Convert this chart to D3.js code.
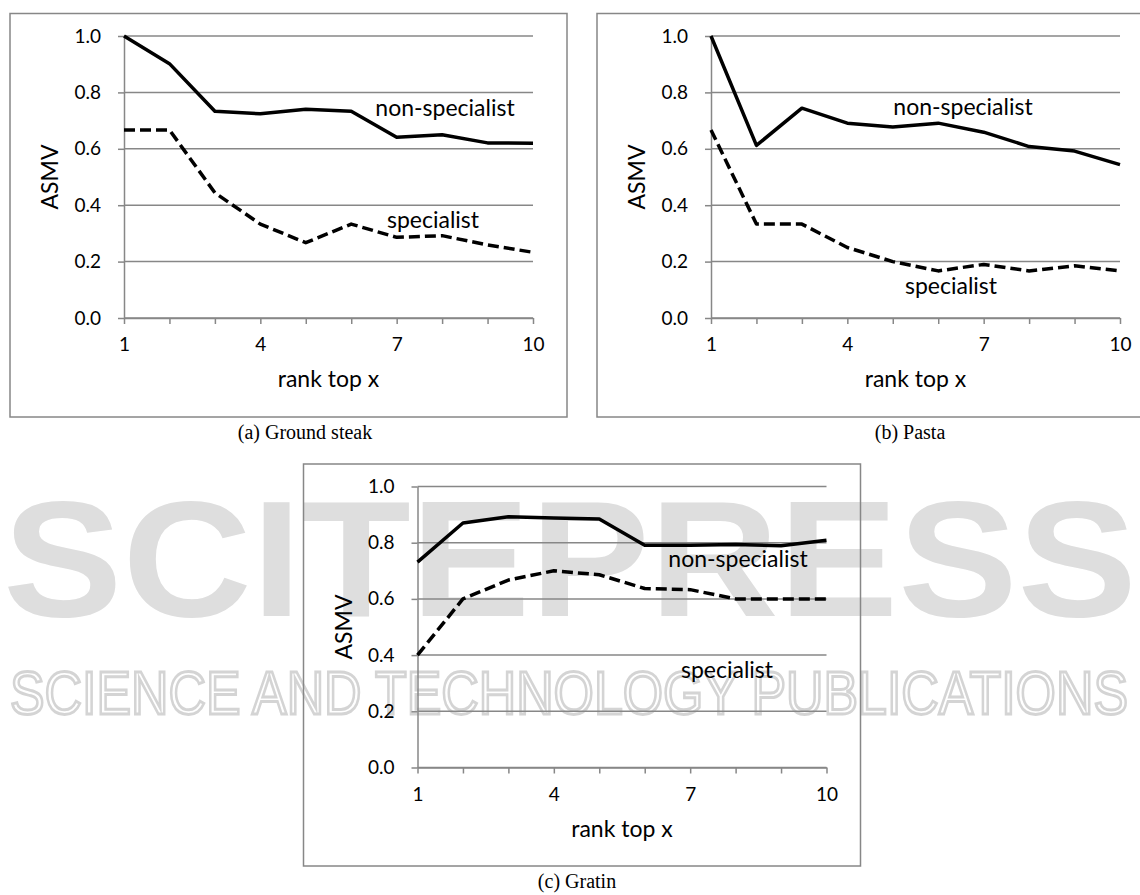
<!DOCTYPE html>
<html>
<head>
<meta charset="utf-8">
<script src="https://cdnjs.cloudflare.com/ajax/libs/d3/7.8.5/d3.min.js"></script>
<style>
  body { margin: 0; background: #fff; }
  .tick text { font-family: Lato, 'Open Sans', sans-serif; font-size: 19px; fill: #000; }
  .lbl { font-family: Lato, 'Open Sans', sans-serif; font-size: 23px; fill: #000; }
  .cap { font-family: 'Liberation Serif', 'Times New Roman', serif; font-size: 20px; fill: #000; }
</style>
</head>
<body>
<div class="chart"></div>
<script>
var ranks = [1, 2, 3, 4, 5, 6, 7, 8, 9, 10];
var xTickLabels = [1, 4, 7, 10];
var yTickLabels = [0, 0.2, 0.4, 0.6, 0.8, 1.0];

var steakNon  = [1.0, 0.902, 0.733, 0.724, 0.740, 0.733, 0.641, 0.650, 0.621, 0.620];
var steakSpec = [0.667, 0.667, 0.444, 0.333, 0.267, 0.333, 0.286, 0.292, 0.259, 0.233];
var pastaNon  = [1.0, 0.612, 0.744, 0.691, 0.677, 0.691, 0.659, 0.608, 0.592, 0.544];
var pastaSpec = [0.667, 0.333, 0.333, 0.250, 0.200, 0.167, 0.190, 0.167, 0.185, 0.167];
var gratinNon  = [0.731, 0.870, 0.892, 0.888, 0.884, 0.791, 0.791, 0.794, 0.789, 0.809];
var gratinSpec = [0.400, 0.600, 0.667, 0.700, 0.686, 0.637, 0.633, 0.600, 0.600, 0.600];

var seriesNames = ['non-specialist', 'specialist'];
var captions = ['(a) Ground steak', '(b) Pasta', '(c) Gratin'];

var grey = '#878787';

var svg = d3.select('.chart')
  .append('svg')
  .attr('width', 1140)
  .attr('height', 895);

// faint publisher watermark behind everything
var wm = svg.append('g');
wm.append('text')
  .attr('x', 3).attr('y', 616)
  .attr('textLength', 1134).attr('lengthAdjust', 'spacingAndGlyphs')
  .attr('fill', '#dedede')
  .style('font-family', 'Liberation Sans, sans-serif')
  .style('font-weight', 'bold')
  .style('font-size', '166px')
  .text('SCITEPRESS');
wm.append('text')
  .attr('x', 10).attr('y', 714)
  .attr('textLength', 1118).attr('lengthAdjust', 'spacingAndGlyphs')
  .attr('fill', 'none')
  .attr('stroke', '#d4d4d4')
  .attr('stroke-width', 3)
  .style('font-family', 'Liberation Sans, sans-serif')
  .style('font-size', '62px')
  .text('SCIENCE AND TECHNOLOGY PUBLICATIONS');

var panels = [
  { fx: 10, fy: 13.5, fh: 403.5, ph: 282, non: steakNon, spec: steakSpec, cap: captions[0], capX: 305, capY: 439,
    nonLbl: [445, 116], specLbl: [433, 228] },
  { fx: 597, fy: 13.5, fh: 403.5, ph: 282, non: pastaNon, spec: pastaSpec, cap: captions[1], capX: 910, capY: 439,
    nonLbl: [963, 115], specLbl: [951, 294] },
  { fx: 303.5, fy: 464, fh: 402, ph: 281, non: gratinNon, spec: gratinSpec, cap: captions[2], capX: 577, capY: 888,
    nonLbl: [738, 567], specLbl: [727, 678] }
];

var margin = { top: 22.5, left: 114 };
var width = 409;

panels.forEach(drawPanel);

function drawPanel(p) {
  // outer frame
  svg.append('rect')
    .attr('x', p.fx).attr('y', p.fy)
    .attr('width', 557).attr('height', p.fh)
    .attr('fill', 'none')
    .attr('stroke', grey)
    .attr('stroke-width', 1.5);

  svg.append('text')
    .attr('class', 'cap')
    .attr('x', p.capX).attr('y', p.capY)
    .style('text-anchor', 'middle')
    .text(p.cap);

  var height = p.ph;
  var g = svg.append('g')
    .attr('transform', 'translate(' + (p.fx + margin.left) + ',' + (p.fy + margin.top) + ')');

  var xScale = d3.scaleLinear().domain([1, 10]).range([0, width]);
  var yScale = d3.scaleLinear().domain([0, 1]).range([height, 0]);

  // gridlines
  g.selectAll('.grid')
    .data(yTickLabels)
    .enter().append('line')
    .attr('x1', 0).attr('x2', width)
    .attr('y1', d => yScale(d)).attr('y2', d => yScale(d))
    .attr('stroke', grey)
    .attr('stroke-width', 1.5);

  var yAxis = d3.axisLeft(yScale)
    .tickValues(yTickLabels)
    .tickFormat(d3.format('.1f'))
    .tickSizeInner(6)
    .tickSizeOuter(0)
    .tickPadding(17);
  var ya = g.append('g').call(yAxis);

  var xAxis = d3.axisBottom(xScale)
    .tickValues(ranks)
    .tickFormat(d => xTickLabels.indexOf(d) >= 0 ? d : '')
    .tickSizeInner(6)
    .tickSizeOuter(0)
    .tickPadding(14);
  var xa = g.append('g')
    .attr('transform', 'translate(0,' + height + ')')
    .call(xAxis);

  [ya, xa].forEach(function (a) {
    a.select('.domain').attr('stroke', grey).attr('stroke-width', 1.5);
    a.selectAll('.tick line').attr('stroke', grey).attr('stroke-width', 1.5);
    a.selectAll('.tick text').attr('fill', '#000');
  });

  g.append('text')
    .attr('class', 'lbl')
    .attr('transform', 'translate(' + (-66) + ',' + (height / 2) + ') rotate(-90)')
    .style('text-anchor', 'middle')
    .text('ASMV');

  g.append('text')
    .attr('class', 'lbl')
    .attr('x', width / 2).attr('y', height + 69)
    .style('text-anchor', 'middle')
    .text('rank top x');

  var line = d3.line()
    .x((d, i) => xScale(ranks[i]))
    .y(d => yScale(d));

  g.append('path')
    .datum(p.non)
    .attr('d', line)
    .attr('fill', 'none')
    .attr('stroke', '#000')
    .attr('stroke-width', 3.5)
    .attr('stroke-linejoin', 'round');

  g.append('path')
    .datum(p.spec)
    .attr('d', line)
    .attr('fill', 'none')
    .attr('stroke', '#000')
    .attr('stroke-width', 3.5)
    .attr('stroke-dasharray', '11,5')
    .attr('stroke-linejoin', 'round');

  svg.append('text')
    .attr('class', 'lbl')
    .attr('x', p.nonLbl[0]).attr('y', p.nonLbl[1])
    .style('text-anchor', 'middle')
    .text(seriesNames[0]);

  svg.append('text')
    .attr('class', 'lbl')
    .attr('x', p.specLbl[0]).attr('y', p.specLbl[1])
    .style('text-anchor', 'middle')
    .text(seriesNames[1]);
}
</script>
</body>
</html>
